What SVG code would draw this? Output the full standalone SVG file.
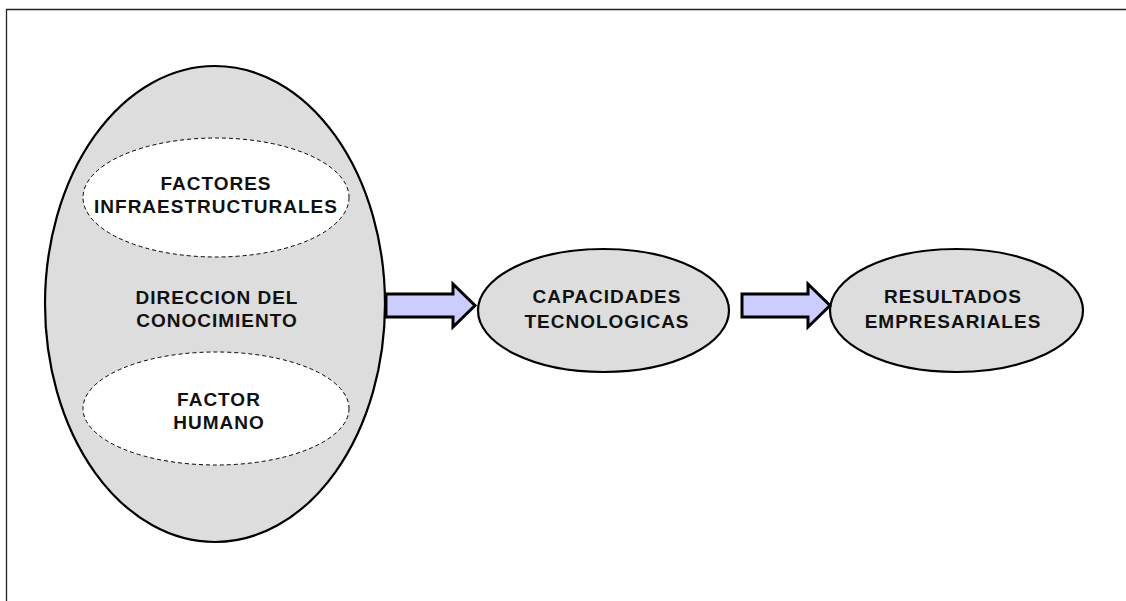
<svg xmlns="http://www.w3.org/2000/svg" width="1126" height="601" viewBox="0 0 1126 601">
<style>
.main{fill:#dddddd;stroke:#000;stroke-width:2.2}
.inner{fill:#fff;stroke:#000;stroke-width:1;stroke-dasharray:4 3}
.arrow{fill:#ccccff;stroke:#000;stroke-width:3;stroke-linejoin:miter}
text{font-family:"Liberation Sans",Arial,sans-serif;font-weight:bold;font-size:19px;letter-spacing:1px;fill:#111;text-anchor:middle}
</style>
<rect x="0" y="0" width="1126" height="601" fill="#fff"/>
<path d="M1126 9.5H6.5V601" fill="none" stroke="#222" stroke-width="1.3"/>
<g id="direccion">
<ellipse class="main" cx="215" cy="304" rx="170" ry="238"/>
<text x="217" y="304">DIRECCION DEL</text>
<text x="217" y="327">CONOCIMIENTO</text>
</g>
<g id="factores-infra">
<ellipse class="inner" cx="216" cy="197.5" rx="133" ry="59.5"/>
<text x="216" y="190">FACTORES</text>
<text x="216" y="213">INFRAESTRUCTURALES</text>
</g>
<g id="factor-humano">
<ellipse class="inner" cx="216" cy="408.5" rx="133" ry="56.5"/>
<text x="219" y="406">FACTOR</text>
<text x="219" y="429">HUMANO</text>
</g>
<g id="capacidades">
<ellipse class="main" cx="603.5" cy="310.5" rx="125.5" ry="61.5"/>
<text x="607" y="303">CAPACIDADES</text>
<text x="607" y="328">TECNOLOGICAS</text>
</g>
<g id="resultados">
<ellipse class="main" cx="956.5" cy="310.5" rx="126.5" ry="61.5"/>
<text x="953" y="303">RESULTADOS</text>
<text x="953" y="328">EMPRESARIALES</text>
</g>
<g id="connectors">
<path class="arrow" d="M386 294H453V284L475 305.5L453 327V317H386Z"/>
<path class="arrow" d="M742 294H808V284L830 305.5L808 327V317H742Z"/>
</g>
</svg>
